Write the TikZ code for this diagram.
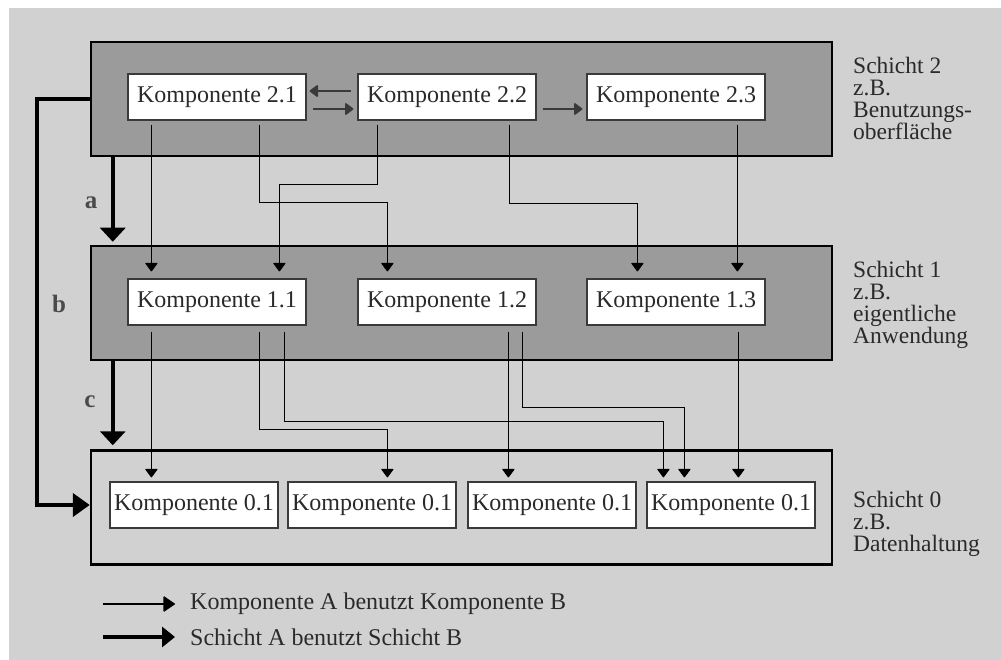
\documentclass[tikz,border=0pt]{standalone}
\usepackage{fontspec}
\setmainfont{Liberation Serif}
\usetikzlibrary{arrows.meta,calc}
\definecolor{paper}{HTML}{D1D1D1}
\definecolor{layerfill}{HTML}{9B9B9B}
\definecolor{ink}{HTML}{2A2A2A}
\definecolor{boxline}{HTML}{3A3A3A}
\tikzset{
  txt/.style={font=\fontsize{24}{22}\selectfont, text=ink},
  layer/.style={draw=black, line width=2.5pt, fill=layerfill, inner sep=0,
                minimum width=741pt, minimum height=114pt},
  comp/.style={txt, draw=boxline, line width=1.2pt, fill=white, inner sep=0,
               minimum width=178pt, minimum height=46pt},
  dcomp/.style={comp, minimum width=168pt},
  note/.style={txt, font=\fontsize{23.5}{22}\selectfont, align=left, inner sep=0, anchor=north west},
  lab/.style={font=\fontsize{25}{25}\selectfont\bfseries, text=ink!85, inner sep=0},
  legend/.style={txt, inner sep=0, anchor=west},
  use/.style={draw=black, line width=1.1pt,
              -{Triangle[length=9pt,width=13pt,round]}},
  sideuse/.style={draw=boxline, line width=1.7pt,
              -{Triangle[length=9pt,width=13pt,round]}},
  layeruse/.style={draw=black, line width=4.5pt,
              -{Triangle[length=14pt,width=25pt]}},
}
\begin{document}
\begin{tikzpicture}[x=1pt,y=-1pt]
  \useasboundingbox (0,0) rectangle (1001,660);
  \fill[paper] (9,8) rectangle (1001,660);

  % the three layers
  \node[layer] (L2) at (461.5,99) {};
  \node[layer] (L1) at (461.5,303) {};
  \node[layer, fill=none] (L0) at (461.5,507.5) {};

  % components of layer 2
  \node[comp] (k21) at (217,97) {Komponente 2.1};
  \node[comp] (k22) at (447,97) {Komponente 2.2};
  \node[comp] (k23) at (676,97) {Komponente 2.3};
  % components of layer 1
  \node[comp] (k11) at (217,302) {Komponente 1.1};
  \node[comp] (k12) at (447,302) {Komponente 1.2};
  \node[comp] (k13) at (676,302) {Komponente 1.3};
  % components of layer 0
  \node[dcomp] (k01) at (194,505) {Komponente 0.1};
  \node[dcomp] (k02) at (372,505) {Komponente 0.1};
  \node[dcomp] (k03) at (552,505) {Komponente 0.1};
  \node[dcomp] (k04) at (731,505) {Komponente 0.1};

  % uses inside layer 2
  \draw[sideuse] ($(k22.west)+(-6,-6)$) -- ($(k21.east)+(3,-6)$);
  \draw[sideuse] ($(k21.east)+(6,12)$) -- ($(k22.west)+(-4,12)$);
  \draw[sideuse] ($(k22.east)+(6,12)$) -- ($(k23.west)+(-4,12)$);

  % layer 2 -> layer 1
  \draw[use] ($(k21.south west)+(24,4)$) -- ($(k11.north west)+(24,-7)$);
  \draw[use] ($(k21.south west)+(132,4)$) -- ++(0,78) -| ($(k12.north west)+(30,-7)$);
  \draw[use] ($(k22.south west)+(20,4)$) -- ++(0,60) -| ($(k11.north west)+(152,-7)$);
  \draw[use] ($(k22.south west)+(152,4)$) -- ++(0,79) -| ($(k13.north west)+(51,-7)$);
  \draw[use] ($(k23.south west)+(151,4)$) -- ($(k13.north west)+(151,-7)$);

  % layer 1 -> layer 0
  \draw[use] ($(k11.south west)+(24,6)$) -- ($(k01.north west)+(42,-4)$);
  \draw[use] ($(k11.south west)+(132,6)$) -- ++(0,98) -| ($(k02.north west)+(100,-4)$);
  \draw[use] ($(k11.south west)+(157,6)$) -- ++(0,90) -| ($(k04.north west)+(17,-4)$);
  \draw[use] ($(k12.south west)+(151,6)$) -- ($(k03.north west)+(41,-4)$);
  \draw[use] ($(k12.south west)+(165,6)$) -- ++(0,76) -| ($(k04.north west)+(38,-4)$);
  \draw[use] ($(k13.south west)+(152,6)$) -- ($(k04.north west)+(92,-4)$);

  % layer uses a, b, c
  \draw[layeruse] ($(L2.south west)+(23,0)$) -- ($(L1.north west)+(23,-3)$);
  \draw[layeruse] ($(L1.south west)+(23,0)$) -- ($(L0.north west)+(23,-4)$);
  \draw[layeruse, -{Triangle[length=17pt,width=23pt]}]
    (L2.west) -- ++(-53,0) |- ($(L0.west)+(0,-2.5)$);
  \node[lab] (la) at (91,203) {a};
  \node[lab] (lb) at (59,304) {b};
  \node[lab] (lc) at (90,402) {c};

  % layer descriptions
  \node[note] (t2) at (853,57) {Schicht 2\\z.B.\\Benutzungs-\\oberfläche};
  \node[note] (t1) at (853,261) {Schicht 1\\z.B.\\eigentliche\\Anwendung};
  \node[note] (t0) at (853,491) {Schicht 0\\z.B.\\Datenhaltung};

  % legend
  \node[legend] (lg1) at (190,604) {Komponente A benutzt Komponente B};
  \node[legend] (lg2) at (190,637) {Schicht A benutzt Schicht B};
  \draw[draw=black, line width=1.2pt, -{Triangle[length=12pt,width=16pt,round]}]
    ([xshift=-87pt]lg1.west) -- ([xshift=-15pt]lg1.west);
  \draw[draw=black, line width=4pt, -{Triangle[length=13pt,width=20pt]}]
    ([xshift=-87pt]lg2.west) -- ([xshift=-15pt]lg2.west);
\end{tikzpicture}
\end{document}
